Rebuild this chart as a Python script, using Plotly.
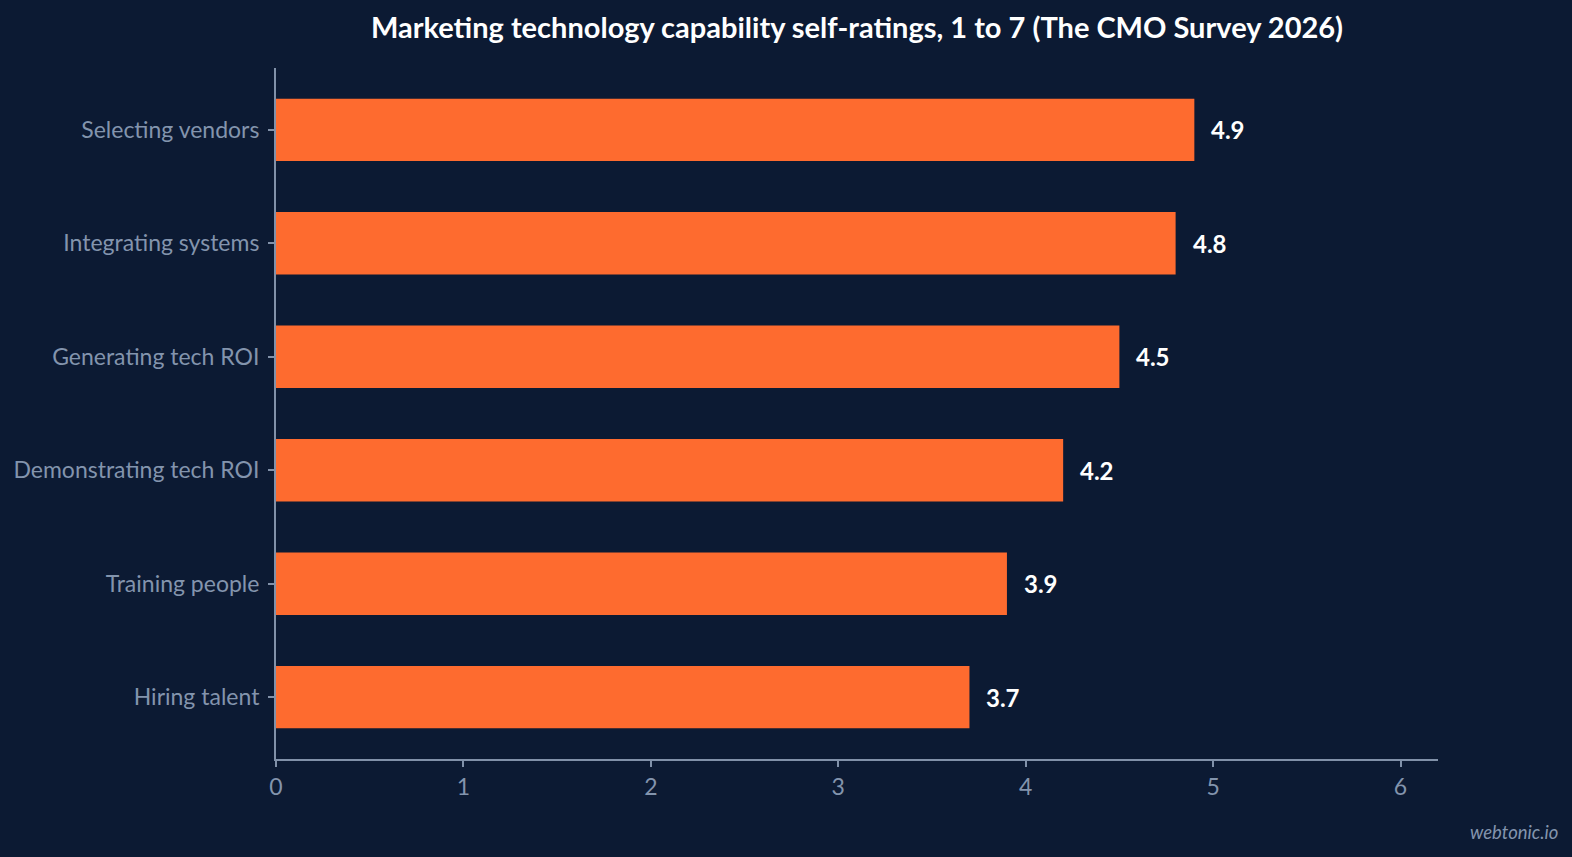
import plotly.graph_objects as go

categories = ["Selecting vendors", "Integrating systems", "Generating tech ROI",
              "Demonstrating tech ROI", "Training people", "Hiring talent"]
ratings = [4.9, 4.8, 4.5, 4.2, 3.9, 3.7]
x_ticks = [0, 1, 2, 3, 4, 5, 6]

BG = "#0c1a33"
BAR = "#fe6b2f"
MUTED = "#8394ad"
AXIS = "#8191a9"

# reverse so the first category sits on top
fig = go.Figure(go.Bar(
    x=ratings[::-1],
    y=categories[::-1],
    orientation="h",
    marker=dict(color=BAR, line=dict(width=0)),
    width=0.55,
    hoverinfo="skip",
))

# value labels just past each bar end
for cat, val in zip(categories, ratings):
    fig.add_annotation(
        x=val, y=cat, text=f"<b>{val}</b>", showarrow=False,
        xanchor="left", xshift=15,
        font=dict(family="Lato", size=24, color="#ffffff"),
    )

fig.add_annotation(
    text="<i>webtonic.io</i>", xref="paper", yref="paper",
    x=1.1026, y=-0.1056, xanchor="right", yanchor="middle", showarrow=False,
    xshift=3,
    font=dict(family="Lato", size=18.5, color=MUTED),
)

fig.update_layout(
    width=1572,
    height=857,
    paper_bgcolor=BG,
    plot_bgcolor=BG,
    font=dict(family="Lato", size=23, color=MUTED),
    title=dict(
        text="<b>Marketing technology capability self-ratings, 1 to 7 (The CMO Survey 2026)</b>",
        x=0.5, xref="paper", xanchor="center", y=0.967, yanchor="middle",
        font=dict(family="Lato", size=29, color="#ffffff"),
    ),
    margin=dict(l=276, r=134, t=68, b=98),
    showlegend=False,
)

fig.update_xaxes(
    range=[0, 6.2], tickvals=x_ticks, showgrid=False, zeroline=False,
    showline=True, linecolor=AXIS, linewidth=2,
    ticks="outside", ticklen=6, tickwidth=2, tickcolor=AXIS,
    tickfont=dict(family="Lato", size=23, color=MUTED),
)
fig.update_yaxes(
    range=[-0.545, 5.545], showgrid=False, zeroline=False,
    showline=True, linecolor=AXIS, linewidth=2,
    ticks="outside", ticklen=6, tickwidth=2, tickcolor=AXIS,
    ticklabelstandoff=4,
    tickfont=dict(family="Lato", size=23, color=MUTED),
)

# drop the default page margin so the figure fills the window exactly
fig.write_html(
    "out.html",
    config={"displayModeBar": False},
    post_script="document.body.style.margin='0';document.body.style.overflow='hidden';",
)
